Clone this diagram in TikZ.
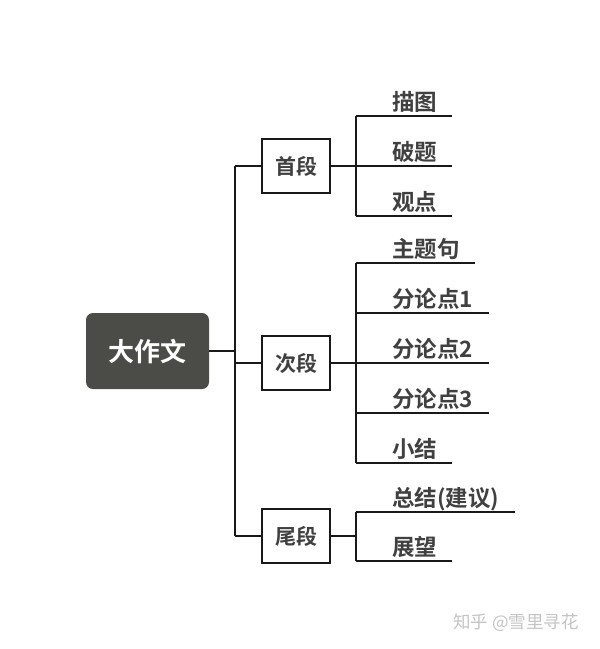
\documentclass[tikz,border=0pt]{standalone}
\usepackage{fontspec}
\setmainfont{Noto Sans CJK SC}
\newfontfamily\cjkb{Noto Sans CJK SC Bold}
\definecolor{rootfill}{HTML}{4B4B47}
\definecolor{txt}{HTML}{404040}
\definecolor{wm}{HTML}{C4C4C4}
\begin{document}
\begin{tikzpicture}[x=1pt,y=-1pt,
  conn/.style={line width=2pt,draw=black!90},
  rootbox/.style={fill=rootfill,rounded corners=7pt,minimum width=123pt,minimum height=76pt,inner sep=0pt,text=white,font=\cjkb\fontsize{26}{26}\selectfont},
  secbox/.style={draw=black!90,line width=2pt,fill=white,minimum width=68pt,minimum height=54pt,inner sep=0pt,text=txt,font=\cjkb\fontsize{21}{21}\selectfont},
  leaf/.style={anchor=base west,inner sep=0pt,text=txt,font=\cjkb\fontsize{22.5}{22.5}\selectfont}]
\useasboundingbox (0,0) rectangle (600,649);
\fill[white] (0,0) rectangle (600,649);
% root
\node[rootbox] (root) at (147.5,351) {大作文};
% trunk
\coordinate (t0) at (235,351);
\coordinate (t1) at (235,166);
\coordinate (t2) at (235,363);
\coordinate (t3) at (235,536);
\draw[conn] (root.east) -- (t0);
\draw[conn] (t1) -- (t3);
% sections
\node[secbox] (s1) at (296,166) {首段};
\node[secbox] (s2) at (296,363) {次段};
\node[secbox] (s3) at (296,536) {尾段};
\draw[conn] (t1) -- (s1.west);
\draw[conn] (t2) -- (s2.west);
\draw[conn] (t3) -- (s3.west);
% branch 1
\coordinate (b1a) at (356,116);
\coordinate (b1b) at (356,166);
\coordinate (b1c) at (356,216);
\draw[conn] (s1.east) -- (b1b);
\draw[conn] (b1a) -- (b1c);
\coordinate (e1a) at (452,116);
\coordinate (e1b) at (452,166);
\coordinate (e1c) at (452,216);
\draw[conn] (b1a) -- (e1a);
\draw[conn] (b1b) -- (e1b);
\draw[conn] (b1c) -- (e1c);
\node[leaf] (l1a) at (392,110) {描图};
\node[leaf] (l1b) at (392,160) {破题};
\node[leaf] (l1c) at (392,210) {观点};
% branch 2
\coordinate (b2a) at (356,263);
\coordinate (b2b) at (356,313);
\coordinate (b2c) at (356,363);
\coordinate (b2d) at (356,413);
\coordinate (b2e) at (356,463);
\draw[conn] (s2.east) -- (b2c);
\draw[conn] (b2a) -- (b2e);
\coordinate (e2a) at (475,263);
\coordinate (e2b) at (489,313);
\coordinate (e2c) at (489,363);
\coordinate (e2d) at (489,413);
\coordinate (e2e) at (452,463);
\draw[conn] (b2a) -- (e2a);
\draw[conn] (b2b) -- (e2b);
\draw[conn] (b2c) -- (e2c);
\draw[conn] (b2d) -- (e2d);
\draw[conn] (b2e) -- (e2e);
\node[leaf] (l2a) at (392,257) {主题句};
\node[leaf] (l2b) at (392,307) {分论点1};
\node[leaf] (l2c) at (392,357) {分论点2};
\node[leaf] (l2d) at (392,407) {分论点3};
\node[leaf] (l2e) at (392,457) {小结};
% branch 3
\coordinate (b3a) at (356,512);
\coordinate (b3m) at (356,536);
\coordinate (b3b) at (356,561);
\draw[conn] (s3.east) -- (b3m);
\draw[conn] (b3a) -- (b3b);
\coordinate (e3a) at (515,512);
\coordinate (e3b) at (452,561);
\draw[conn] (b3a) -- (e3a);
\draw[conn] (b3b) -- (e3b);
\node[leaf] (l3a) at (392,506) {总结(建议)};
\node[leaf] (l3b) at (392,555) {展望};
% watermark
\node[anchor=west,inner sep=0pt,text=wm,font=\fontsize{17.5}{17.5}\selectfont] (wm) at (453,623) {知乎 @雪里寻花};
\end{tikzpicture}
\end{document}
